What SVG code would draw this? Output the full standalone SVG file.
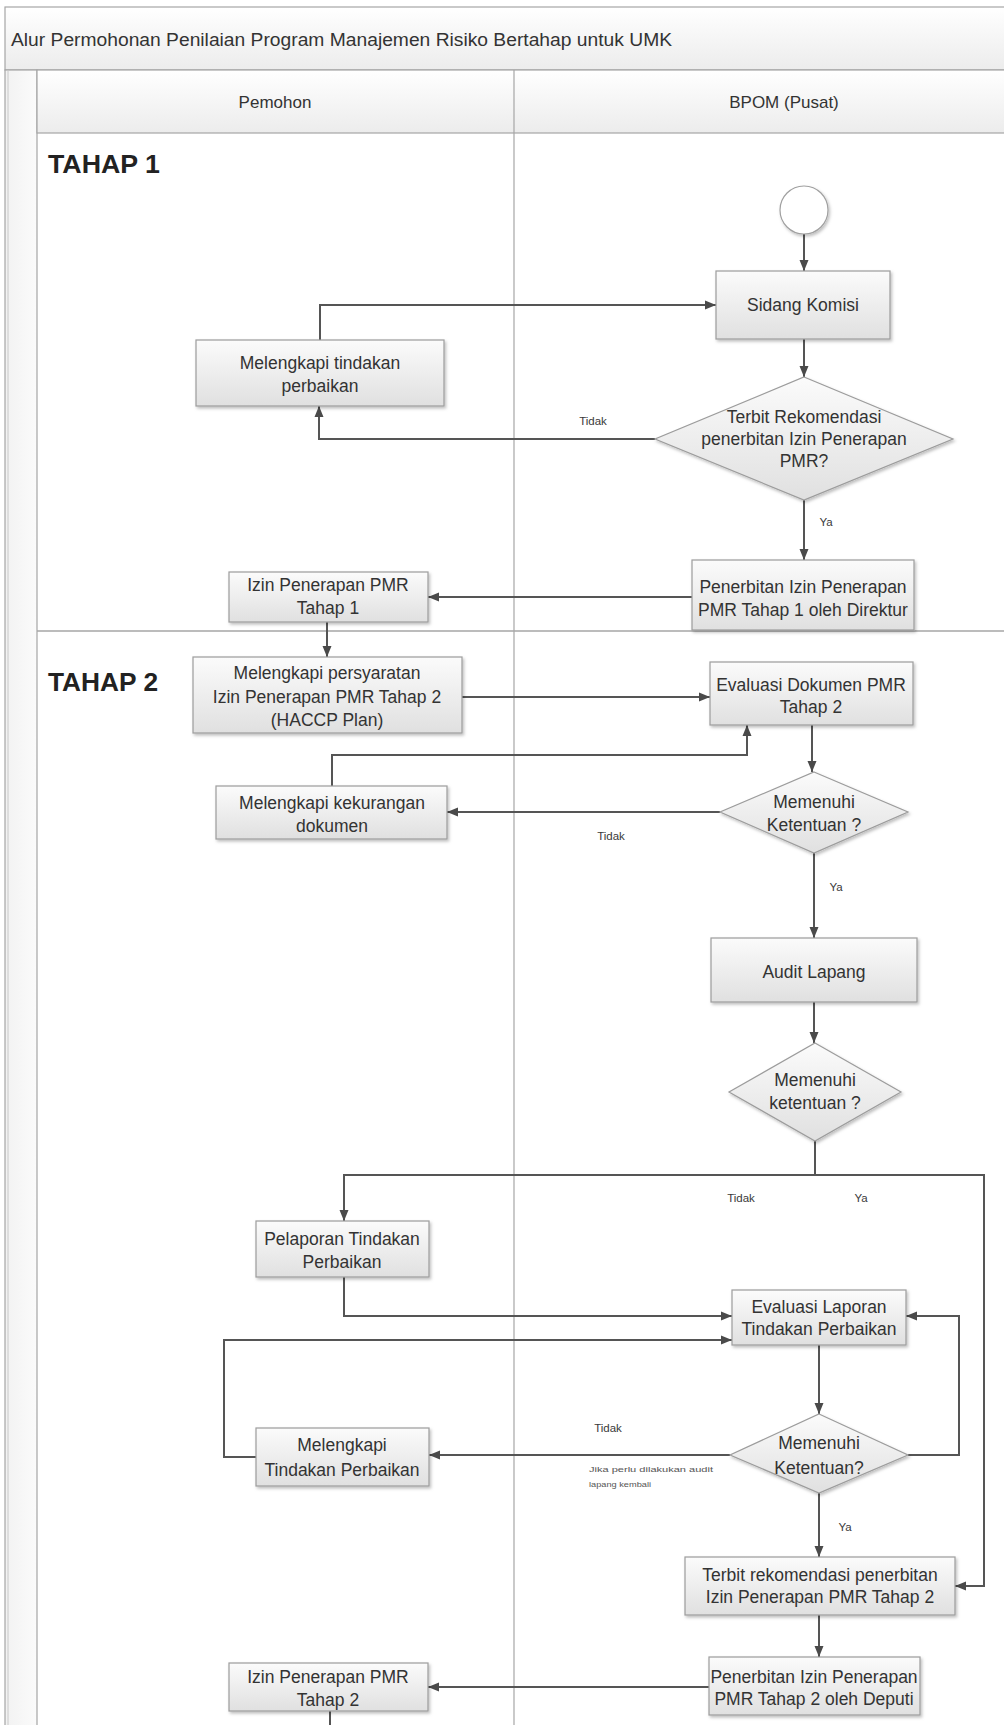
<svg xmlns="http://www.w3.org/2000/svg" width="1004" height="1725" viewBox="0 0 1004 1725">
  <defs>
    <linearGradient id="boxFill" x1="0" y1="0" x2="0" y2="1">
      <stop offset="0" stop-color="#fbfbfb"/>
      <stop offset="1" stop-color="#e0e0e0"/>
    </linearGradient>
    <linearGradient id="bandFill" x1="0" y1="0" x2="0" y2="1">
      <stop offset="0" stop-color="#ffffff"/>
      <stop offset="1" stop-color="#ececec"/>
    </linearGradient>
    <linearGradient id="stripFill" x1="0" y1="0" x2="1" y2="0">
      <stop offset="0" stop-color="#f2f2f2"/>
      <stop offset="1" stop-color="#fbfbfb"/>
    </linearGradient>
    <filter id="shadow" x="-10%" y="-10%" width="125%" height="135%">
      <feDropShadow dx="1.5" dy="2" stdDeviation="1.5" flood-color="#000" flood-opacity="0.25"/>
    </filter>
    <marker id="arrow" markerUnits="userSpaceOnUse" markerWidth="12" markerHeight="10" refX="11" refY="5" orient="auto">
      <path d="M0,0.5 L11,5 L0,9.5 Z" fill="#4a4a4a"/>
    </marker>
    <style>
      .box { fill: url(#boxFill); stroke: #9c9c9c; stroke-width: 1.2; filter: url(#shadow); }
      .dia { fill: url(#boxFill); stroke: #9c9c9c; stroke-width: 1.2; filter: url(#shadow); }
      .lane { fill: none; stroke: #a6a6a6; stroke-width: 1.2; }
      .t { font-family: "Liberation Sans", Arial, sans-serif; font-size: 17.5px; fill: #333; text-anchor: middle; }
      .hdr { font-family: "Liberation Sans", Arial, sans-serif; font-size: 17px; fill: #333; text-anchor: middle; }
      .phase { font-family: "Liberation Sans", Arial, sans-serif; font-size: 25px; font-weight: bold; fill: #222; }
      .lbl { font-family: "Liberation Sans", Arial, sans-serif; font-size: 11.5px; fill: #3a3a3a; text-anchor: middle; }
      .note { font-family: "Liberation Sans", Arial, sans-serif; font-size: 7.5px; fill: #555; }
      .c { fill: none; stroke: #555; stroke-width: 2; }
      .ca { fill: none; stroke: #555; stroke-width: 2; marker-end: url(#arrow); }
    </style>
  </defs>

  <rect width="1004" height="1725" fill="#ffffff"/>

  <!-- pool frame, title band, header row -->
  <g id="pool">
    <rect x="5" y="7" width="1010" height="63" fill="url(#bandFill)" stroke="#a6a6a6" stroke-width="1.2"/>
    <text x="11" y="46" font-family="'Liberation Sans', Arial, sans-serif" font-size="17.5" fill="#333" textLength="661" lengthAdjust="spacingAndGlyphs">Alur Permohonan Penilaian Program Manajemen Risiko Bertahap untuk UMK</text>
    <rect x="5" y="70" width="32" height="1665" fill="url(#stripFill)" stroke="#a6a6a6" stroke-width="1.2"/>
    <line x1="8" y1="70" x2="8" y2="1725" stroke="#c8c8c8" stroke-width="1"/>
    <rect x="37" y="70" width="980" height="63" fill="url(#bandFill)" stroke="#a6a6a6" stroke-width="1.2"/>
    <line class="lane" x1="514" y1="70" x2="514" y2="1725"/>
    <text class="hdr" x="275" y="108">Pemohon</text>
    <text class="hdr" x="784" y="108">BPOM (Pusat)</text>
    <line x1="37" y1="631" x2="1004" y2="631" stroke="#a6a6a6" stroke-width="1.6"/>
    <text class="phase" x="48" y="173" textLength="112" lengthAdjust="spacingAndGlyphs">TAHAP 1</text>
    <text class="phase" x="48" y="691" textLength="110" lengthAdjust="spacingAndGlyphs">TAHAP 2</text>
  </g>

  <!-- connectors -->
  <g id="connectors">
    <path class="ca" d="M804,234 L804,271"/>
    <path class="ca" d="M804,339 L804,377"/>
    <path class="ca" d="M655,439 L319,439 L319,406"/>
    <path class="ca" d="M320,340 L320,305 L716,305"/>
    <path class="ca" d="M804,500 L804,560"/>
    <path class="ca" d="M692,597 L428,597"/>
    <path class="ca" d="M327,622 L327,657"/>
    <path class="ca" d="M462,697 L710,697"/>
    <path class="ca" d="M332,786 L332,755 L747,755 L747,725"/>
    <path class="ca" d="M812,725 L812,772"/>
    <path class="ca" d="M720,812 L447,812"/>
    <path class="ca" d="M814,853 L814,938"/>
    <path class="ca" d="M814,1002 L814,1043"/>
    <path class="c" d="M815,1141 L815,1175"/>
    <path class="ca" d="M815,1175 L344,1175 L344,1221"/>
    <path class="ca" d="M815,1175 L984,1175 L984,1586 L955,1586"/>
    <path class="ca" d="M344,1277 L344,1316 L732,1316"/>
    <path class="ca" d="M256,1457 L224,1457 L224,1340 L732,1340"/>
    <path class="ca" d="M908,1455 L959,1455 L959,1316 L906,1316"/>
    <path class="ca" d="M819,1345 L819,1414"/>
    <path class="ca" d="M730,1455 L429,1455"/>
    <path class="ca" d="M819,1493 L819,1557"/>
    <path class="ca" d="M819,1615 L819,1657"/>
    <path class="ca" d="M709,1687 L428,1687"/>
    <path class="c" d="M330,1711 L330,1725"/>

    <text class="lbl" x="593" y="425">Tidak</text>
    <text class="lbl" x="826" y="526">Ya</text>
    <text class="lbl" x="611" y="840">Tidak</text>
    <text class="lbl" x="836" y="891">Ya</text>
    <text class="lbl" x="741" y="1202">Tidak</text>
    <text class="lbl" x="861" y="1202">Ya</text>
    <text class="lbl" x="608" y="1432">Tidak</text>
    <text class="lbl" x="845" y="1531">Ya</text>
    <text class="note" x="589" y="1472" textLength="124" lengthAdjust="spacingAndGlyphs">Jika perlu dilakukan audit</text>
    <text class="note" x="589" y="1487" textLength="62" lengthAdjust="spacingAndGlyphs">lapang kembali</text>
  </g>

  <!-- Tahap 1 -->
  <g id="start">
    <circle cx="804" cy="210" r="24" fill="#ffffff" stroke="#a0a0a0" stroke-width="1.2" filter="url(#shadow)"/>
  </g>
  <g id="sidang-komisi">
    <rect class="box" x="716" y="271" width="174" height="68"/>
    <text class="t" x="803" y="311">Sidang Komisi</text>
  </g>
  <g id="cek-rekomendasi">
    <polygon class="dia" points="804,377 953,439 804,500 655,439"/>
    <text class="t" x="804" y="423">Terbit Rekomendasi</text>
    <text class="t" x="804" y="445">penerbitan Izin Penerapan</text>
    <text class="t" x="804" y="467">PMR?</text>
  </g>
  <g id="tindakan-perbaikan">
    <rect class="box" x="196" y="340" width="248" height="66"/>
    <text class="t" x="320" y="369">Melengkapi tindakan</text>
    <text class="t" x="320" y="392">perbaikan</text>
  </g>
  <g id="penerbitan-tahap1">
    <rect class="box" x="692" y="560" width="222" height="70"/>
    <text class="t" x="803" y="593">Penerbitan Izin Penerapan</text>
    <text class="t" x="803" y="616">PMR Tahap 1 oleh Direktur</text>
  </g>
  <g id="izin-tahap1">
    <rect class="box" x="229" y="572" width="199" height="50"/>
    <text class="t" x="328" y="591">Izin Penerapan PMR</text>
    <text class="t" x="328" y="614">Tahap 1</text>
  </g>

  <!-- Tahap 2 -->
  <g id="persyaratan-tahap2">
    <rect class="box" x="193" y="657" width="269" height="76"/>
    <text class="t" x="327" y="679">Melengkapi persyaratan</text>
    <text class="t" x="327" y="703">Izin Penerapan PMR Tahap 2</text>
    <text class="t" x="327" y="726">(HACCP Plan)</text>
  </g>
  <g id="evaluasi-dokumen">
    <rect class="box" x="710" y="662" width="203" height="63"/>
    <text class="t" x="811" y="691">Evaluasi Dokumen PMR</text>
    <text class="t" x="811" y="713">Tahap 2</text>
  </g>
  <g id="kekurangan-dokumen">
    <rect class="box" x="216" y="786" width="231" height="53"/>
    <text class="t" x="332" y="809">Melengkapi kekurangan</text>
    <text class="t" x="332" y="832">dokumen</text>
  </g>
  <g id="cek-dokumen">
    <polygon class="dia" points="814,772 908,812 814,853 720,812"/>
    <text class="t" x="814" y="808">Memenuhi</text>
    <text class="t" x="814" y="831">Ketentuan ?</text>
  </g>
  <g id="audit-lapang">
    <rect class="box" x="711" y="938" width="206" height="64"/>
    <text class="t" x="814" y="978">Audit Lapang</text>
  </g>
  <g id="cek-audit">
    <polygon class="dia" points="815,1043 901,1092 815,1141 729,1092"/>
    <text class="t" x="815" y="1086">Memenuhi</text>
    <text class="t" x="815" y="1109">ketentuan ?</text>
  </g>
  <g id="pelaporan">
    <rect class="box" x="256" y="1221" width="173" height="56"/>
    <text class="t" x="342" y="1245">Pelaporan Tindakan</text>
    <text class="t" x="342" y="1268">Perbaikan</text>
  </g>
  <g id="evaluasi-laporan">
    <rect class="box" x="732" y="1290" width="174" height="55"/>
    <text class="t" x="819" y="1313">Evaluasi Laporan</text>
    <text class="t" x="819" y="1335">Tindakan Perbaikan</text>
  </g>
  <g id="cek-laporan">
    <polygon class="dia" points="819,1414 908,1455 819,1493 730,1455"/>
    <text class="t" x="819" y="1449">Memenuhi</text>
    <text class="t" x="819" y="1474">Ketentuan?</text>
  </g>
  <g id="melengkapi-tindakan">
    <rect class="box" x="256" y="1428" width="173" height="58"/>
    <text class="t" x="342" y="1451">Melengkapi</text>
    <text class="t" x="342" y="1476">Tindakan Perbaikan</text>
  </g>
  <g id="rekomendasi-tahap2">
    <rect class="box" x="685" y="1557" width="270" height="58"/>
    <text class="t" x="820" y="1581">Terbit rekomendasi penerbitan</text>
    <text class="t" x="820" y="1603">Izin Penerapan PMR Tahap 2</text>
  </g>
  <g id="penerbitan-tahap2">
    <rect class="box" x="709" y="1657" width="211" height="58"/>
    <text class="t" x="814" y="1683">Penerbitan Izin Penerapan</text>
    <text class="t" x="814" y="1705">PMR Tahap 2 oleh Deputi</text>
  </g>
  <g id="izin-tahap2">
    <rect class="box" x="229" y="1663" width="199" height="48"/>
    <text class="t" x="328" y="1683">Izin Penerapan PMR</text>
    <text class="t" x="328" y="1706">Tahap 2</text>
  </g>
</svg>
